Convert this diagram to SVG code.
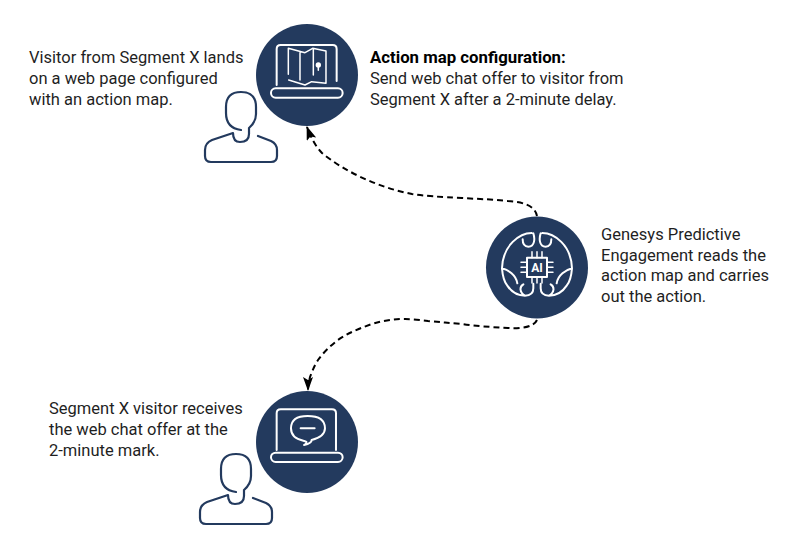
<svg xmlns="http://www.w3.org/2000/svg" width="800" height="550" viewBox="0 0 800 550">
<style>
text{font-family:Roboto,"Liberation Sans",sans-serif;font-size:16.500px;fill:#1f1f1f}
.b{font-weight:700;font-size:16.800px;fill:#000}
.disc{fill:#233a5e}
.ic{fill:none;stroke:#fff;stroke-width:6;stroke-linecap:round;stroke-linejoin:round}
.thin{stroke-width:4.500}
.p{fill:none;stroke:#233a5e;stroke-width:2.200;stroke-linecap:round;stroke-linejoin:round}
.c{fill:none;stroke:#000;stroke-width:2;stroke-dasharray:6 4}
</style>
<defs>
<marker id="ah" markerUnits="userSpaceOnUse" markerWidth="16" markerHeight="12" refX="13" refY="5" orient="auto"><path d="M0 0L14 5L0 10L3 5Z" fill="#000"/></marker>
<g id="person"><path class="p" d="M241 130Q226 128 226 113V107Q226 92 241 92Q256 92 256 107V114Q256 122 249 128V134Q249 142 240 142Q233 142 233 133L212 140Q205 143 205 150V156Q205 162 211 162H271Q277 162 277 156V150Q277 144 271 141L258 136"/></g>
<g id="lobe"><path class="ic" d="M155 84C120 84 68 120 66 190C85 195 108 210 112 235M66 190C68 215 72 230 82 242C95 262 112 272 135 272C155 272 160 262 160 250V236M135 272C118 262 118 245 130 238M160 85C165 100 165 125 145 125C132 125 128 115 128 103"/></g>
</defs>
<g id="connectors">
<path class="c" d="M537 216C535 205 522 202 508 201C490 199 475 199 462 198C440 197 425 196 412 194C380 188 345 172 322 153C316 147 311 138 307 127" marker-end="url(#ah)"/>
<path class="c" d="M537 320C534 327 520 329 508 328C490 327 475 326 462 324C450 323 440 322 428 321C420 320 412 319 405 319C392 319 382 321 372 324C358 329 348 333 338 340C330 346 323 353 318 360C314 366 312 372 310 377C309 382 308 386 308 390" marker-end="url(#ah)"/>
</g>
<g id="node-map">
<circle class="disc" cx="307" cy="75" r="51"/>
<g transform="translate(190 15) scale(.3333)">
<path class="ic" d="M260 210V102Q260 90 272 90H428Q440 90 440 102V198"/>
<rect class="ic" x="243" y="220" width="215" height="28" rx="14"/>
<path class="ic thin" d="M295 178V100L345 113L368 100L408 108V205L365 200L345 210L296 195M330 110V195M370 102V180"/>
<circle cx="385" cy="150" r="8" fill="#fff"/>
<path class="ic thin" d="M385 152V166"/>
</g>
</g>
<g id="person-1"><use href="#person"/></g>
<g id="node-ai">
<circle class="disc" cx="537" cy="267.500" r="51"/>
<g transform="translate(480 205) scale(.3333)">
<use href="#lobe"/>
<use href="#lobe" transform="translate(342 0) scale(-1 1)"/>
<rect class="ic" x="141" y="158" width="60" height="58"/>
<path class="ic thin" d="M156 158V140M171 158V140M186 158V140M156 216V234M171 216V234M186 216V234M141 172H123M141 187H123M141 202H123M201 172H219M201 187H219M201 202H219"/>
</g>
<text x="537" y="272" text-anchor="middle" style="font-size:12px;font-weight:700;fill:#fff">AI</text>
</g>
<g id="node-chat">
<circle class="disc" cx="307" cy="442" r="51"/>
<g transform="translate(190 380) scale(.3333)">
<path class="ic" d="M260 210V100Q260 88 272 88H426Q438 88 438 100V210"/>
<rect class="ic" x="243" y="218" width="215" height="28" rx="14"/>
<path class="ic" d="M342 195Q365 190 365 180Q405 170 405 145Q405 108 353 108Q303 108 303 145Q303 175 340 182Q358 185 342 195Z"/>
<path class="ic" d="M332 145H374"/>
</g>
</g>
<g id="person-2"><use href="#person" x="-5" y="362"/></g>
<g id="label-1"><text x="29" y="63">Visitor from Segment X lands</text><text x="29" y="84">on a web page configured</text><text x="29" y="105">with an action map.</text></g>
<g id="label-2"><text x="370" y="63" class="b">Action map configuration:</text><text x="370" y="84">Send web chat offer to visitor from</text><text x="370" y="105">Segment X after a 2-minute delay.</text></g>
<g id="label-3"><text x="601" y="240">Genesys Predictive</text><text x="601" y="261">Engagement reads the</text><text x="601" y="281">action map and carries</text><text x="601" y="302">out the action.</text></g>
<g id="label-4"><text x="49" y="414">Segment X visitor receives</text><text x="49" y="435">the web chat offer at the</text><text x="49" y="456">2-minute mark.</text></g>
</svg>
